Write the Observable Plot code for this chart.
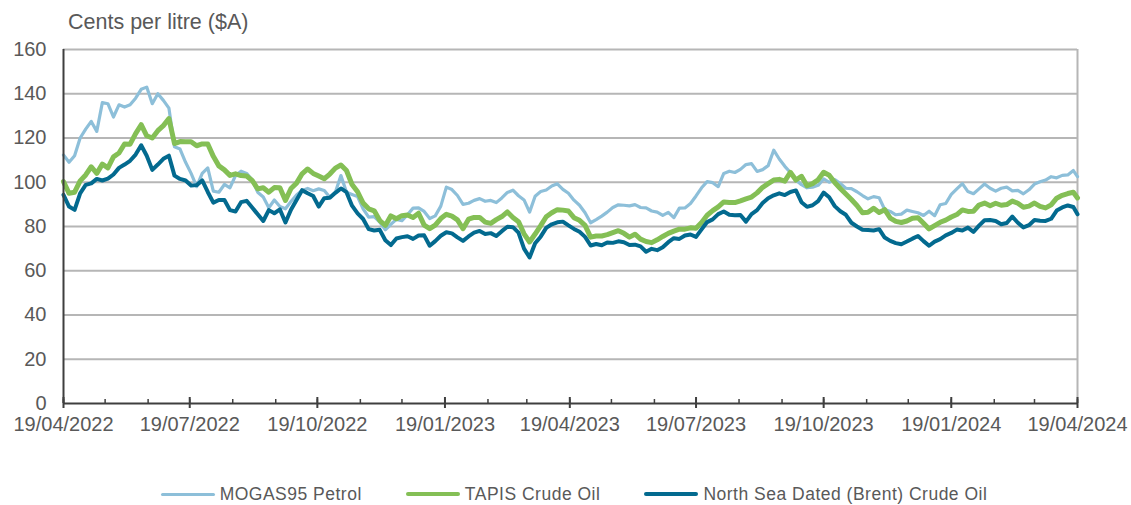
<!DOCTYPE html>
<html>
<head>
<meta charset="utf-8">
<script src="https://cdn.jsdelivr.net/npm/d3@7"></script>
<script src="https://cdn.jsdelivr.net/npm/@observablehq/plot@0.6"></script>
<style>
  html, body { margin: 0; padding: 0; background: #fff; }
  body { font-family: "Liberation Sans", Arial, sans-serif; }
  #wrap { position: relative; width: 1131px; height: 505px; overflow: hidden; }
  #chart { position: absolute; left: 0; top: 0; }
  #title { position: absolute; left: 68px; top: 10px; font-size: 21.5px; color: #595959; white-space: nowrap; }
  #legend { position: absolute; left: 0; top: 484px; width: 1131px; display: flex; justify-content: center; gap: 44px; padding-left: 17px; box-sizing: border-box; font-size: 17.5px; letter-spacing: 0.5px; color: #595959; line-height: 20px; }
  .item { display: flex; align-items: center; gap: 5px; white-space: nowrap; }
  .sw { display: inline-block; width: 54px; border-radius: 2px; }
</style>
</head>
<body>
<div id="wrap">
  <div id="chart"></div>
  <div id="title">Cents per litre ($A)</div>
  <div id="legend"></div>
</div>
<script>
// Series labels and colours
const seriesNames = ["MOGAS95 Petrol", "TAPIS Crude Oil", "North Sea Dated (Brent) Crude Oil"];
const seriesColors = ["#8DBFD9", "#84BF55", "#036A8F"];
const seriesWidths = [3.2, 5, 4];

// Sampling: every 4 days from 19/04/2022, plus the last day 19/04/2024
const startDate = new Date(Date.UTC(2022, 3, 19));
const endDate = new Date(Date.UTC(2024, 3, 19));
const dayOffsets = d3.range(0, 729, 4).concat([731]);
const dates = dayOffsets.map(d => new Date(startDate.getTime() + d * 864e5));

// Values (cents per litre)
const mogas = [112.3,109,112,120,124,127.5,123,136,135.5,129.5,
135,134,135,138,142,143,135.5,140,137,133.5,
116,115,109,104,98,104,106.5,96,95.5,99,
97.5,103,105,104,101,95.5,93.3,88.5,92,89,
88,91.3,94.2,96.3,97.2,96.2,97,96.3,93.2,95.5,
103,95.5,94.5,93.5,88,84.2,84.5,82,78.5,81,
83.2,82.6,85.3,88.3,88.4,86.8,83.6,84.8,89.2,97.8,
96.7,94,90,90.5,91.8,92.6,91.4,91.8,90.8,92.9,
95.4,96.4,93.9,92,86.5,93.7,95.8,96.5,98.3,99.3,
96.8,95,91.9,89.6,86.2,81.7,83.1,84.7,86.5,88.6,
89.8,89.6,89.3,89.9,88.6,88.4,87,86.5,85,86.4,
84,88.3,88.4,90.4,93.8,97.5,100.3,99.8,98,104,
105,104.4,105.8,108,108.4,104.9,105.7,107.5,114.5,110.5,
107.2,104.4,101,98.9,97.5,97.8,98.6,101.5,100,101.2,
99.4,97.3,97.1,95.7,94,92.5,93.5,93,87.7,86.8,
85.3,85.6,87.4,86.8,86.2,85,86.9,84.9,89.8,90.4,
94.5,97,99.4,95.8,94.8,97,99.2,97.3,96,97.3,
97.8,96.1,96.3,94.8,96.6,99.2,100.2,101,102.5,102,
103.1,103.3,105.3,102.5];

const tapis = [100.3,95,95.5,100.6,103.3,107,104,108.2,106.5,111.5,
113.2,117.3,117.2,122,126,121,120,123.3,125.6,128.8,
117.5,118.4,118.3,118.3,116.5,117.3,117.3,111.7,107.4,105.6,
103.1,103.8,103,102.8,100.8,97,97.5,95.5,97.6,97.5,
91.8,97.2,99.6,103.8,106,104,102.8,101.6,103.7,106.4,
107.8,105.3,99,95.7,90.6,88,87.1,82.7,80.5,84.8,
83.5,84.9,85.2,84.1,86,80.6,79,80.6,83.6,85.5,
84.7,83,79,83.3,84.1,84.1,82,81.4,83.1,84.5,
86.6,84.1,82.2,76.7,73,76.6,80.4,84.4,86.2,87.6,
87.4,87,84,82.8,80.5,75.2,75.7,75.7,76.3,77.2,
78.1,76.9,75.2,76.5,74.3,73.2,72.7,74,75.5,76.9,
77.9,78.8,78.8,79.4,79.2,81.8,85.1,87.2,88.9,91.1,
90.8,90.8,91.6,92.5,93.3,95.2,97.7,99.4,101,101.3,
100.5,104.5,101,102.7,98.4,99.4,101.1,104.5,103.2,99.9,
97.2,94.7,92.2,89.5,86.2,86.4,88.2,86.3,87.6,83.8,
82.3,81.8,82.5,83.7,84,81.5,78.9,80.4,81.9,82.9,
84.3,85.4,87.5,86.8,86.9,89.7,90.6,89.4,90.5,89.6,
89.9,91.5,90.5,88.7,89.2,90.6,89.1,88.4,89.8,92.8,
94.1,94.9,95.5,92.9];

const brent = [94.3,89,87.5,95,98.8,99.5,101.5,100.8,101.6,103.5,
106.5,108,109.7,112.5,116.7,112,105.6,108,110.6,112,
103,101.5,100.8,98.5,98.7,100.8,95.6,90.8,92,92,
87.4,86.8,91,91.6,88.6,85.5,82.5,87.4,86,87.7,
81.8,87.6,92,96.4,95,93.8,89,92.8,93,95.2,
97.2,95.5,89.4,85.9,83.4,78.8,78.2,78.5,73.8,71.6,
74.6,75.2,75.6,74.4,75.9,76,71.3,73.4,75.8,77.4,
76.9,75.1,73.5,75.5,77.2,78,76.6,77,75.7,77.9,
79.9,79.7,77.2,70,66,72.4,75.4,79.4,81,81.9,
82.2,80.5,78.9,77.6,75.3,71.4,72.1,71.5,72.8,72.6,
73.3,72.9,71.6,71.8,71,68.6,69.9,69.3,70.6,72.9,
74.7,74.4,75.9,76.4,75.3,78.7,82,83.2,85.6,86.8,
85.3,85.1,85.2,82.2,85.6,87.4,90.6,92.8,94.1,95,
94.2,95.6,96.3,91,88.9,89.6,91.5,95.3,93.2,89.2,
86.9,85.3,81.7,80,78.5,78.4,78.2,78.8,75,73.5,
72.5,72,73.2,74.5,75.7,73.4,71.3,73.2,74.3,76,
77.1,78.6,78.2,79.5,77.6,80.4,82.8,82.9,82.5,81,
81.6,84.5,81.7,79.6,80.6,82.9,82.6,82.5,83.5,87.2,
88.6,89.5,88.8,85.5];

// Axis ticks
const yTicks = [0, 20, 40, 60, 80, 100, 120, 140, 160];
const majorTicks = d3.utcMonth.every(3).range(new Date(Date.UTC(2022,3,1)), new Date(Date.UTC(2024,4,1))).map(d => d3.utcDay.offset(d, 18));
const minorTicks = d3.utcMonth.range(new Date(Date.UTC(2022,3,1)), new Date(Date.UTC(2024,4,1))).map(d => d3.utcDay.offset(d, 18));

const seriesValues = [mogas, tapis, brent];

const W = 1131, H = 450;
const chart = Plot.plot({
  width: W,
  height: H,
  marginLeft: 63,
  marginRight: 54,
  marginTop: 49,
  marginBottom: H - 403,
  style: { fontFamily: '"Liberation Sans", Arial, sans-serif', background: "transparent", overflow: "visible" },
  x: { type: "utc", domain: [startDate, endDate] },
  y: { domain: [0, 160] },
  marks: [
    Plot.gridY(yTicks.filter(d => d > 0), { stroke: "#b6b6b6", strokeOpacity: 1, strokeWidth: 2 }),
    Plot.ruleX([endDate], { stroke: "#b6b6b6", strokeWidth: 2 }),
    ...seriesValues.map((vals, k) => Plot.line(vals, {
      x: (d, i) => dates[i],
      y: d => d,
      stroke: seriesColors[k],
      strokeWidth: seriesWidths[k],
      strokeLinejoin: "round",
      strokeLinecap: "round"
    })),
    Plot.ruleX([startDate], { stroke: "#3f3f3f", strokeWidth: 2 }),
    Plot.ruleY([0], { stroke: "#3f3f3f", strokeWidth: 2 }),
    Plot.ruleX(minorTicks, { stroke: "#3f3f3f", strokeWidth: 1.5, insetTop: 403 - 49 - 4 }),
    Plot.ruleX(majorTicks, { stroke: "#3f3f3f", strokeWidth: 2, insetTop: 403 - 49 - 6, insetBottom: -5 }),
    Plot.axisY(yTicks, { tickSize: 0, tickPadding: 17, fontSize: 20, color: "#595959", label: null }),
    Plot.axisX(majorTicks, { tickSize: 0, tickPadding: 13, fontSize: 20, color: "#595959", label: null, tickFormat: d3.utcFormat("%d/%m/%Y") })
  ]
});
document.getElementById("chart").appendChild(chart);

// Legend
const legend = document.getElementById("legend");
seriesNames.forEach((name, k) => {
  const item = document.createElement("div");
  item.className = "item";
  const sw = document.createElement("span");
  sw.className = "sw";
  sw.style.height = (k === 0 ? 3 : 4) + "px";
  sw.style.background = seriesColors[k];
  const label = document.createElement("span");
  label.textContent = name;
  item.appendChild(sw);
  item.appendChild(label);
  legend.appendChild(item);
});
</script>
</body>
</html>
